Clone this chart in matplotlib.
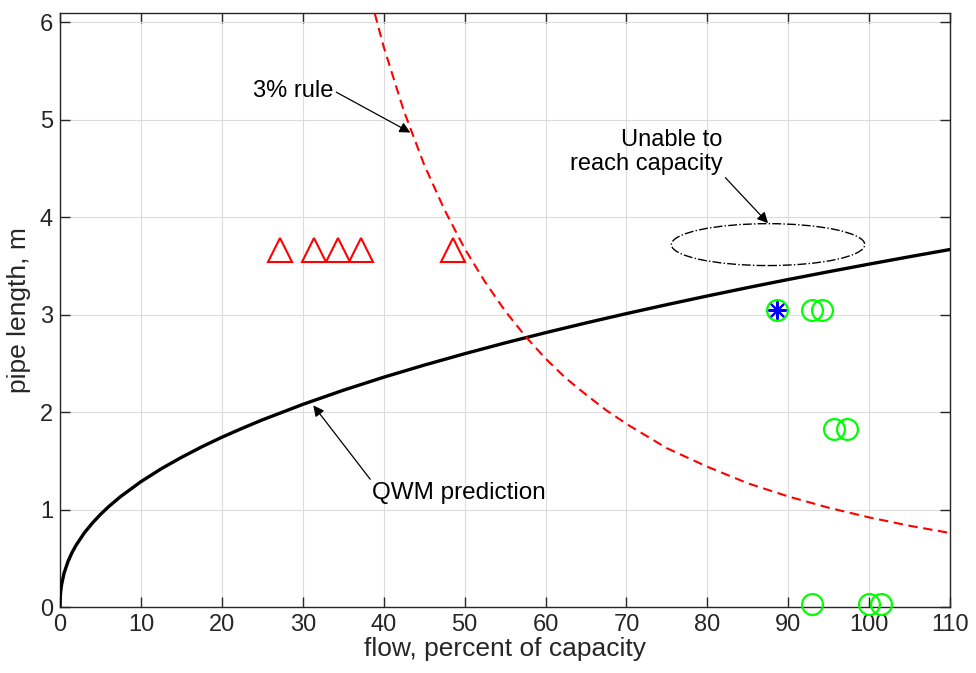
import matplotlib
matplotlib.use('Agg')
import matplotlib.pyplot as plt
from matplotlib.patches import Ellipse
import numpy as np

plt.rcParams['font.family'] = ['Liberation Sans', 'DejaVu Sans']

# QWM prediction curve
qwm_flow = [0, 0.01, 0.02, 0.05, 0.1, 0.2, 0.5, 1, 1.5, 2, 3, 4, 5, 6, 7.5, 10, 12.5, 15, 17.5,
            20, 22.5, 25, 30, 35, 40, 45, 50, 55, 60, 65, 70, 75, 80, 85, 90, 95, 100, 105, 110]
qwm_len = [0, 0.063, 0.085, 0.127, 0.172, 0.233, 0.348, 0.471, 0.562, 0.637, 0.761, 0.862,
           0.951, 1.030, 1.135, 1.287, 1.419, 1.536, 1.644, 1.743, 1.834, 1.921, 2.08, 2.225,
           2.359, 2.483, 2.60, 2.711, 2.816, 2.916, 3.012, 3.104, 3.193, 3.279, 3.362, 3.442,
           3.52, 3.596, 3.67]

# 3% rule curve
rule_flow = [38, 40, 42.5, 45, 47.5, 50, 52.5, 55, 57.5, 60, 62.5, 65, 67.5, 70, 75, 80, 85,
             90, 95, 100, 105, 110]
rule_len = [6.37, 5.75, 5.09, 4.54, 4.08, 3.68, 3.34, 3.04, 2.78, 2.55, 2.35, 2.18, 2.02, 1.88,
            1.63, 1.44, 1.27, 1.135, 1.019, 0.92, 0.834, 0.76]

# failed runs (triangles)
fail_flow = [27.2, 31.4, 34.3, 37.2, 48.6]
fail_len = [3.66, 3.66, 3.66, 3.66, 3.66]

# successful runs (circles)
ok_flow = [88.6, 92.9, 94.2, 95.7, 97.2, 92.9, 100.0, 101.4]
ok_len = [3.05, 3.05, 3.05, 1.83, 1.83, 0.03, 0.03, 0.03]

# special point
star_flow = [88.6]
star_len = [3.05]

fig = plt.figure(figsize=(9.76, 6.73), dpi=100)
ax = fig.add_axes([0.0615, 0.098, 0.912, 0.8825])

ax.plot(qwm_flow, qwm_len, color='k', lw=2.4, zorder=3)
ax.plot(rule_flow, rule_len, color='#ff0000', lw=1.5, ls=(0, (4.5, 2.7)), zorder=3)
ax.plot(fail_flow, fail_len, ls='none', marker='^', ms=17, mfc='none', mec='#ff0000', mew=1.5, zorder=4)
ax.plot(ok_flow, ok_len, ls='none', marker='o', ms=15, mfc='none', mec='#00ff00', mew=1.6, zorder=4,
        clip_on=False)
ax.plot(star_flow, star_len, ls='none', marker=(8, 2, 0), ms=13, mec='#0000ff', mew=1.5, zorder=5)

ell = Ellipse((87.5, 3.72), 23.9, 0.43, fill=False, ec='k', lw=1.0, ls='-.', zorder=3)
ax.add_patch(ell)

arrow = dict(arrowstyle='-|>', color='k', lw=0.9, mutation_scale=16, shrinkA=0, shrinkB=0)
ax.annotate('3% rule', xy=(43.3, 4.87), xytext=(33.8, 5.30), ha='right', va='center', fontsize=17,
            arrowprops=dict(arrow, relpos=(1, 0.5)))
ax.annotate('QWM prediction', xy=(31.3, 2.07), xytext=(38.6, 1.17), ha='left', va='center', fontsize=17.5,
            arrowprops=dict(arrow, relpos=(0, 1)))
ax.annotate('Unable to\nreach capacity', xy=(87.5, 3.94), xytext=(81.9, 4.67), ha='right', va='center',
            multialignment='right', fontsize=17, linespacing=1.1,
            arrowprops=dict(arrow, relpos=(1, 0)))

ax.set_xlim(0, 110)
ax.set_ylim(0, 6.096)
ax.set_xticks(np.arange(0, 111, 10))
ax.set_yticks(np.arange(0, 7, 1))
ax.grid(True, color='#dcdcdc', lw=0.8)
ax.set_axisbelow(True)
ax.tick_params(direction='in', top=True, right=True, length=7, width=1, colors='#262626',
               labelsize=17, pad=5)
for s in ax.spines.values():
    s.set_color('#262626')
    s.set_linewidth(1)

ax.set_xlabel('flow, percent of capacity', fontsize=19, color='#262626', labelpad=1)
ax.set_ylabel('pipe length, m', fontsize=19, color='#262626', labelpad=6)

fig.savefig('out.png', dpi=100)
